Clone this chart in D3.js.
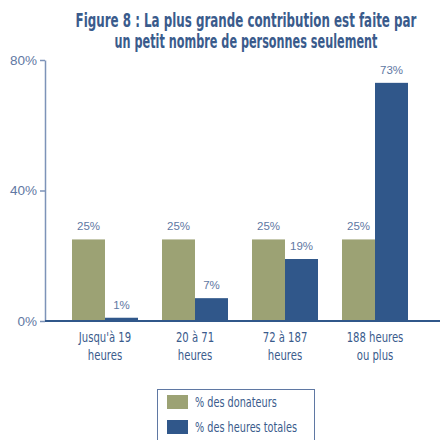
<!DOCTYPE html>
<html>
<head>
<meta charset="utf-8">
<script src="https://cdn.jsdelivr.net/npm/d3@7"></script>
<style>
  body { margin: 0; background: #fff; }
  svg { display: block; }
  .cond { font-family: "DejaVu Sans Condensed", "Liberation Sans Narrow", sans-serif; }
</style>
</head>
<body>
<svg id="chart"></svg>
<script>
var categories = [["Jusqu'à 19", "heures"], ["20 à 71", "heures"], ["72 à 187", "heures"], ["188 heures", "ou plus"]];
var seriesNames = ["% des donateurs", "% des heures totales"];
var donateurs = [25, 25, 25, 25];
var heures = [1, 7, 19, 73];
var yTicks = [0, 40, 80];
var titleLines = ["Figure 8 : La plus grande contribution est faite par", "un petit nombre de personnes seulement"];

var colors = ["#9ca274", "#30578a"];
var width = 440, height = 440;
var squeeze = 0.8;

var svg = d3.select("#chart").attr("width", width).attr("height", height);

// title, squeezed horizontally to look like a condensed face
var titleWidths = [341, 263];
svg.selectAll(".title")
    .data(titleLines)
    .enter()
    .append("g")
    .attr("class", "title")
    .append("text")
    .attr("class", "cond")
    .attr("x", 0)
    .attr("y", 0)
    .attr("text-anchor", "middle")
    .attr("fill", "#3a5b8c")
    .attr("font-size", 19.5)
    .attr("font-weight", "bold")
    .text(function(d) { return d; })
    .each(function(d, i) {
        var sx = titleWidths[i] / this.getComputedTextLength();
        d3.select(this.parentNode)
            .attr("transform", "translate(246," + (27 + i * 21) + ") scale(" + sx + ",1)");
    });

var x0 = d3.scaleBand()
    .domain(d3.range(categories.length))
    .range([60, 420])
    .paddingInner(24 / 90)
    .paddingOuter(12 / 90);

var x1 = d3.scaleBand()
    .domain([0, 1])
    .range([0, x0.bandwidth()]);

var y = d3.scaleLinear().domain([0, 80]).range([321, 60]);

// y axis
var yAxis = svg.append("g")
    .attr("transform", "translate(45,0)")
    .call(d3.axisLeft(y).tickValues(yTicks).tickFormat(function(d) { return d + "%"; }).tickSize(5).tickSizeOuter(0));
yAxis.select(".domain").attr("stroke", "#7d93b8").attr("stroke-width", 1.5);
yAxis.selectAll(".tick line").attr("stroke", "#7d93b8").attr("stroke-width", 1.5);
yAxis.selectAll(".tick text")
    .attr("fill", "#5f78a3")
    .attr("font-family", "'Liberation Sans', Arial, sans-serif")
    .attr("font-size", 13.5)
    .attr("x", -8);

var data = categories.map(function(c, i) { return [donateurs[i], heures[i]]; });

var groups = svg.selectAll(".group")
    .data(data)
    .enter()
    .append("g")
    .attr("class", "group")
    .attr("transform", function(d, i) { return "translate(" + x0(i) + ",0)"; });

groups.selectAll("rect")
    .data(function(d) { return d; })
    .enter()
    .append("rect")
    .attr("x", function(d, j) { return x1(j); })
    .attr("y", function(d) { return y(d); })
    .attr("width", x1.bandwidth())
    .attr("height", function(d) { return y(0) - y(d); })
    .attr("fill", function(d, j) { return colors[j]; });

groups.selectAll(".val")
    .data(function(d) { return d; })
    .enter()
    .append("text")
    .attr("class", "val")
    .attr("x", function(d, j) { return x1(j) + x1.bandwidth() / 2; })
    .attr("y", function(d) { return y(d) - 9; })
    .attr("text-anchor", "middle")
    .attr("font-family", "'Liberation Sans', Arial, sans-serif")
    .attr("font-size", 11.5)
    .attr("fill", "#5f78a3")
    .text(function(d) { return d + "%"; });

// x axis baseline
svg.append("line")
    .attr("x1", 45).attr("x2", 440)
    .attr("y1", y(0)).attr("y2", y(0))
    .attr("stroke", "#30578a")
    .attr("stroke-width", 2);

// category labels
var cats = svg.selectAll(".cat")
    .data(categories)
    .enter()
    .append("g")
    .attr("class", "cat")
    .attr("transform", function(d, i) {
        return "translate(" + (x0(i) + x0.bandwidth() / 2) + ",0) scale(" + squeeze + ",1)";
    });
cats.selectAll("text")
    .data(function(d) { return d; })
    .enter()
    .append("text")
    .attr("class", "cond")
    .attr("x", 0)
    .attr("y", function(d, k) { return 342 + k * 18; })
    .attr("text-anchor", "middle")
    .attr("font-size", 14)
    .attr("fill", "#3a5b8c")
    .text(function(d) { return d; });

// legend
var legend = svg.append("g").attr("transform", "translate(157,389)");
legend.append("rect")
    .attr("x", 0.5).attr("y", 0.5)
    .attr("width", 157).attr("height", 70)
    .attr("fill", "none")
    .attr("stroke", "#5f78a3")
    .attr("stroke-width", 1);
var items = legend.selectAll(".item")
    .data(seriesNames)
    .enter()
    .append("g")
    .attr("class", "item")
    .attr("transform", function(d, i) { return "translate(10," + (6 + i * 25) + ")"; });
items.append("rect")
    .attr("width", 21).attr("height", 14)
    .attr("fill", function(d, i) { return colors[i]; });
items.append("g")
    .attr("transform", "translate(28,0) scale(" + squeeze + ",1)")
    .append("text")
    .attr("class", "cond")
    .attr("x", 0).attr("y", 12)
    .attr("font-size", 13.5)
    .attr("fill", "#3a5b8c")
    .text(function(d) { return d; });
</script>
</body>
</html>
